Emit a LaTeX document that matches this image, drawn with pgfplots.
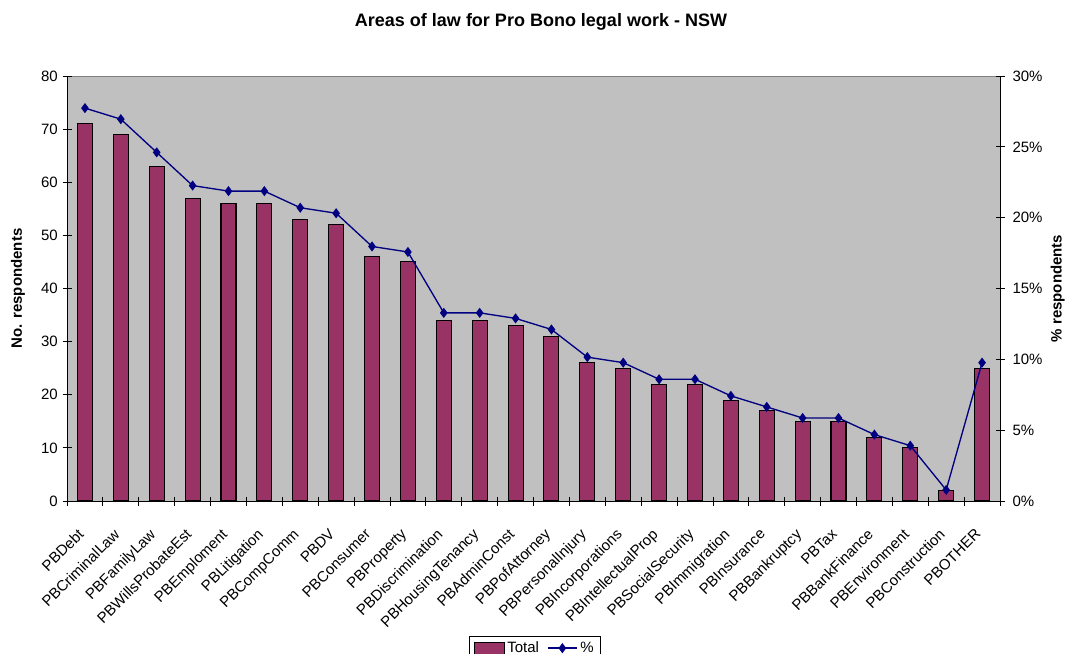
\documentclass[border=0pt]{standalone}
\usepackage{fontspec}
\setmainfont{Liberation Sans}
\usepackage{pgfplots}
\usepackage{pgfplotstable}
\pgfplotsset{compat=1.18}
\definecolor{plum}{RGB}{153,51,102}
\definecolor{navyb}{RGB}{0,0,128}
\definecolor{silver}{RGB}{192,192,192}
\definecolor{frame}{RGB}{128,128,128}

\pgfplotsset{
 barleg/.style={legend image code/.code={\draw[##1] (0pt,-4.5pt) rectangle (22.5pt,4.5pt);}},
 lineleg/.style={legend image code/.code={\draw[mark repeat=2,mark phase=2,##1] plot coordinates {(0pt,0pt)(11pt,0pt)(22pt,0pt)};}},
}

\pgfplotstableread{
x v p
0 71 27.734
1 69 26.953
2 63 24.609
3 57 22.266
4 56 21.875
5 56 21.875
6 53 20.703
7 52 20.313
8 46 17.969
9 45 17.578
10 34 13.281
11 34 13.281
12 33 12.891
13 31 12.109
14 26 10.156
15 25 9.766
16 22 8.594
17 22 8.594
18 19 7.422
19 17 6.641
20 15 5.859
21 15 5.859
22 12 4.688
23 10 3.906
24 2 0.781
25 25 9.766
}\data

\begin{document}
\begin{tikzpicture}
\useasboundingbox (0,0) rectangle (798.75pt,-490.5pt);
\pgfplotsset{
 base/.style={scale only axis, width=699.75pt, height=318.75pt,
  at={(50.25pt,-375.75pt)}, anchor=south west,
  xmin=-0.5, xmax=25.5,
  /pgf/number format/assume math mode=true,
  tick align=center, major tick length=6.75pt,
  ticklabel style={font=\fontsize{11.25}{13}\selectfont},
  label style={font=\fontsize{11.25}{13}\selectfont\bfseries},
  tick style={black, line width=0.6pt},
  axis line style={black, line width=0.6pt, -},
 },
}
\begin{axis}[base, axis x line*=bottom, axis y line*=left,
 ymin=0, ymax=80, ytick={0,10,...,80},
 axis background/.style={fill=silver, draw=frame, line width=0.6pt},
 xtick={-0.5,0.5,...,25.5}, x tick label as interval,
 xtick style={draw=black, line width=0.6pt},
 xticklabels={PBDebt,PBCriminalLaw,PBFamilyLaw,PBWillsProbateEst,PBEmploment,PBLitigation,PBCompComm,PBDV,PBConsumer,PBProperty,PBDiscrimination,PBHousingTenancy,PBAdminConst,PBPofAttorney,PBPersonalInjury,PBIncorporations,PBIntellectualProp,PBSocialSecurity,PBImmigration,PBInsurance,PBBankruptcy,PBTax,PBBankFinance,PBEnvironment,PBConstruction,PBOTHER},
 xticklabel style={xshift=-6pt, yshift=-15pt, rotate=45, anchor=north east, inner sep=1pt},
 ylabel={No. respondents},
 ylabel style={at={(axis description cs:-0.0525,0.5)}, anchor=center},
]
\addplot[ybar, bar width=11.25pt, fill=plum, draw=black, line width=0.8pt] table[x=x,y=v]{\data};
\end{axis}
\begin{axis}[base, axis x line=none, axis y line*=right,
 ymin=0, ymax=30, ytick={0,5,...,30},
 yticklabel={\pgfmathprintnumber{\tick}\%},
 yticklabel style={xshift=2.5pt},
 ylabel={\% respondents},
 ylabel style={at={(axis description cs:1.062,0.5)}, anchor=center},
 legend style={at={(axis description cs:0.5016,-0.3176)}, anchor=north,
   legend columns=2, draw=black, fill=white, line width=0.6pt,
   font=\fontsize{11.25}{13}\selectfont,
   /tikz/every even column/.append style={column sep=4pt}},
]
\addlegendimage{fill=plum, draw=black, line width=0.8pt, barleg}
\addlegendentry{Total}
\addplot[navyb, line width=1pt, mark=diamond*, mark size=3pt, mark options={fill=navyb}, lineleg]
  table[x=x,y=p]{\data};
\addlegendentry{\%}
\end{axis}
\node[font=\fontsize{13.5}{15}\selectfont\bfseries] at (405.75pt,-16.5pt) {Areas of law for Pro Bono legal work - NSW};
\end{tikzpicture}
\end{document}
